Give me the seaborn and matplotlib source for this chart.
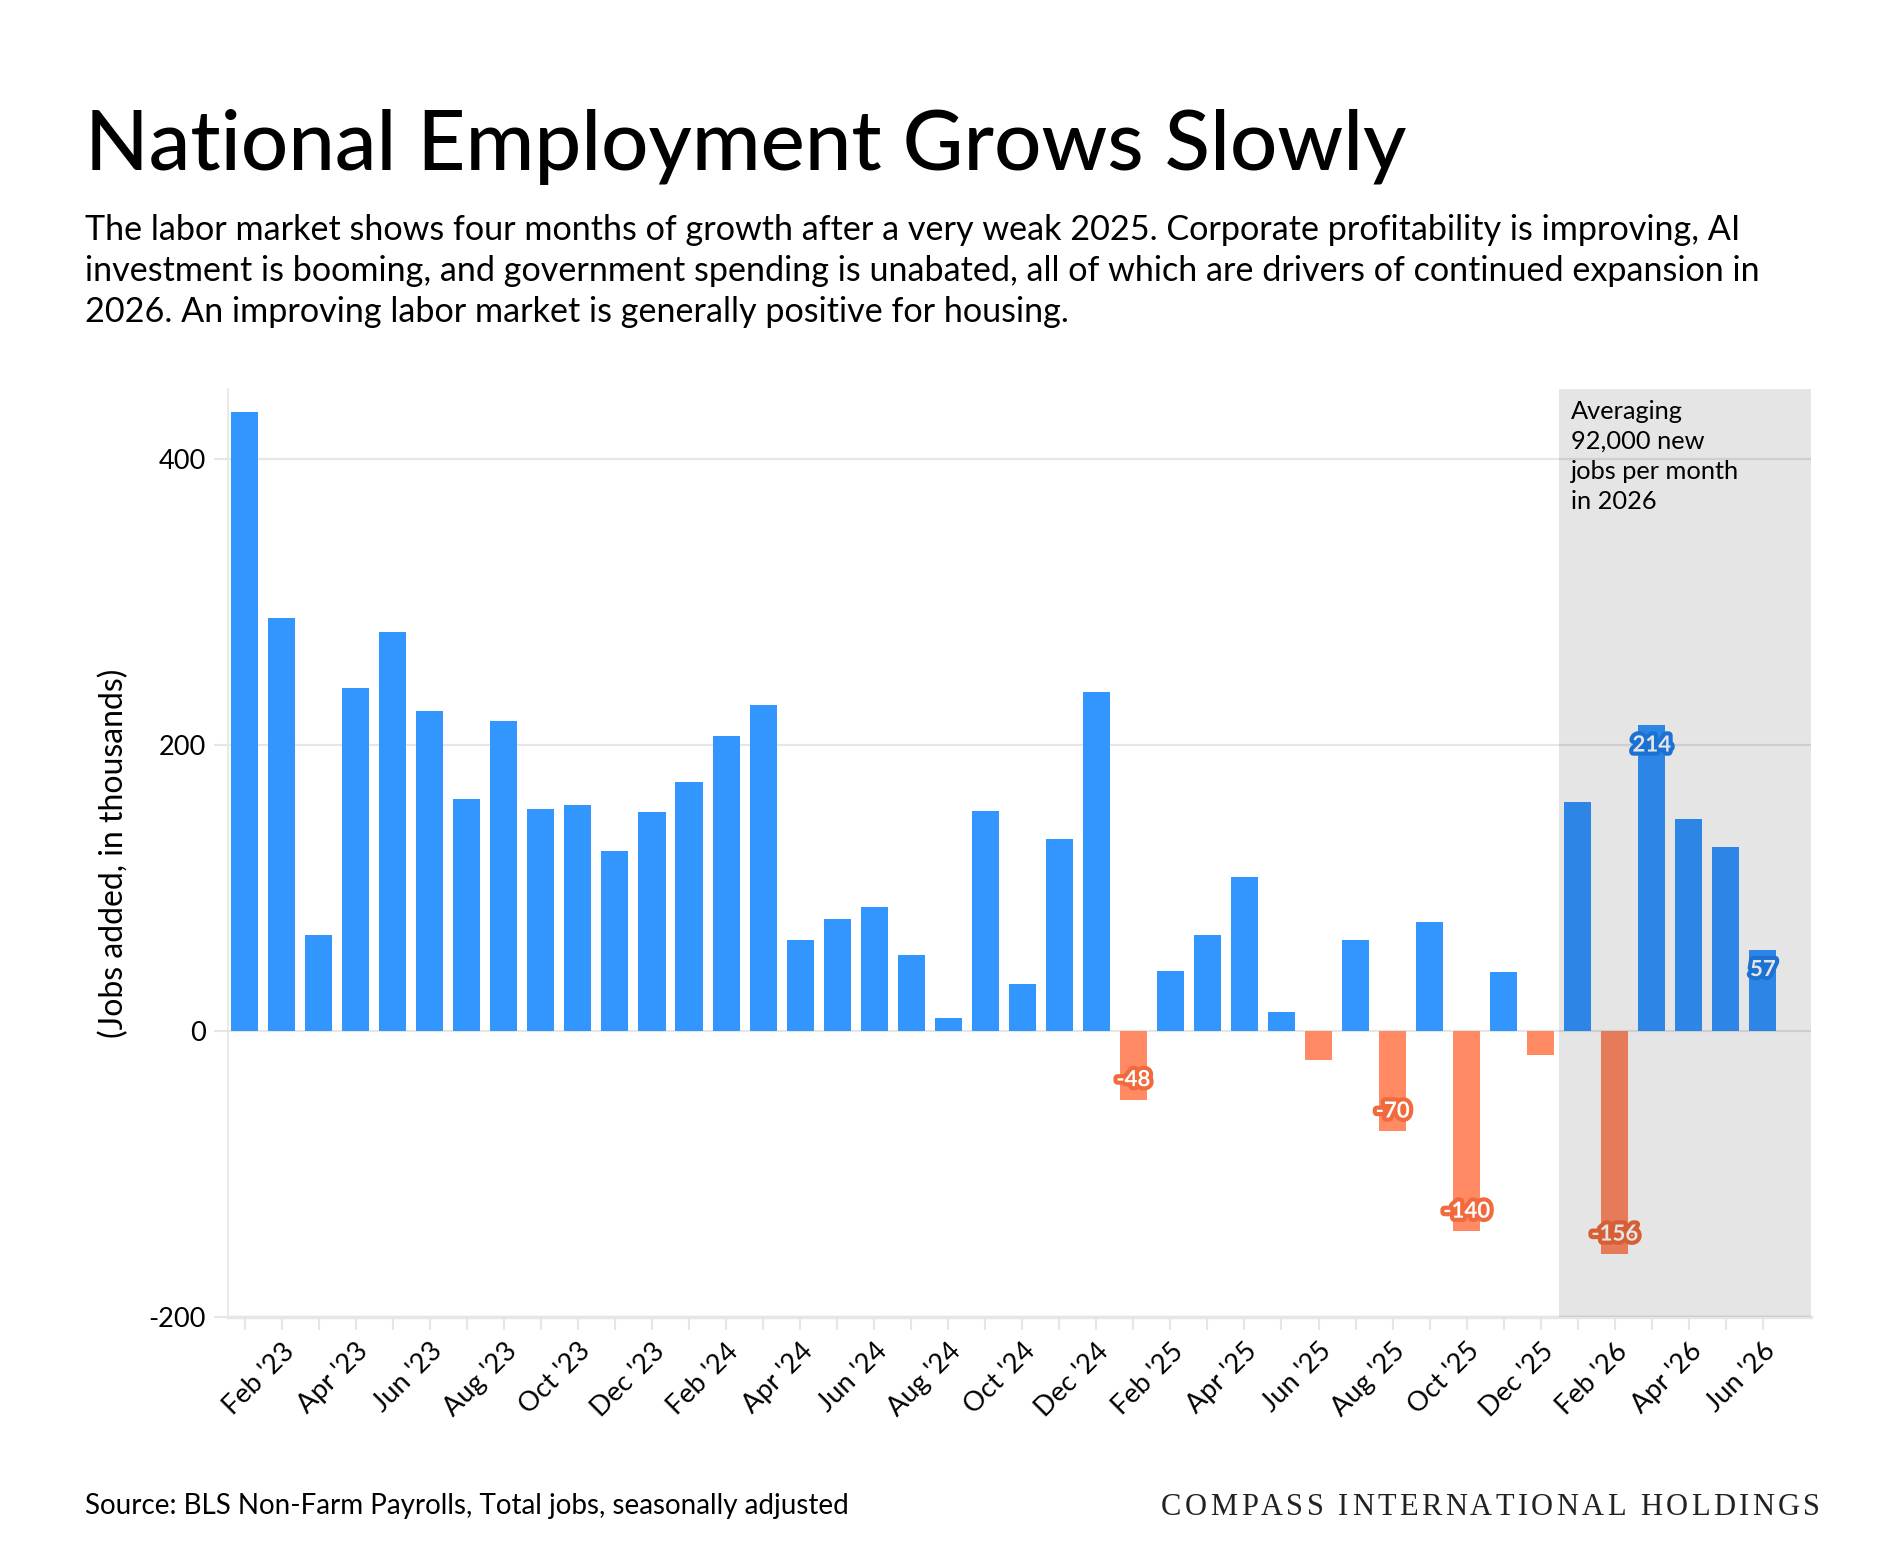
import numpy as np
import pandas as pd
import matplotlib
matplotlib.use("Agg")
import matplotlib.pyplot as plt
import matplotlib.patheffects as pe
from matplotlib.font_manager import FontProperties, findfont, get_font
import seaborn as sns

# aylik istihdam degisimi (bin kisi), Jan '23 - Jun '26
month_names = ["Jan", "Feb", "Mar", "Apr", "May", "Jun",
               "Jul", "Aug", "Sep", "Oct", "Nov", "Dec"]
years = ["23", "24", "25", "26"]
months = [f"{m} '{y}" for y in years for m in month_names][:42]

jobs = [433, 289, 67, 240, 279, 224, 162, 217, 155, 158, 126, 153,
        174, 206, 228, 64, 78, 87, 53, 9, 154, 33, 134, 237,
        -48, 42, 67, 108, 13, -20, 64, -70, 76, -140, 41, -17,
        160, -156, 214, 148, 129, 57]

# etiket gosterilen aylar
labeled_months = ["Jan '25", "Aug '25", "Oct '25", "Feb '26", "Mar '26", "Jun '26"]

title = "National Employment Grows Slowly"
subtitle_lines = [
    "The labor market shows four months of growth after a very weak 2025. Corporate profitability is improving, AI",
    "investment is booming, and government spending is unabated, all of which are drivers of continued expansion in",
    "2026. An improving labor market is generally positive for housing.",
]
note_lines = ["Averaging", "92,000 new", "jobs per month", "in 2026"]
source = "Source: BLS Non-Farm Payrolls, Total jobs, seasonally adjusted"
brand = "COMPASS INTERNATIONAL HOLDINGS"

BLUE = "#3396FF"
ORANGE = "#FF8A63"
GRID = "#E6E6E6"

W, H = 1900, 1568


def fx(px):
    return px / W


def fy(py):
    return 1 - py / H


sns.set_theme(style="white")
plt.rcParams["font.family"] = ["Lato", "DejaVu Sans"]
plt.rcParams["text.color"] = "black"
plt.rcParams["axes.labelcolor"] = "black"
plt.rcParams["axes.unicode_minus"] = False

df = pd.DataFrame({"month": months, "jobs": jobs})
df["sign"] = np.where(df["jobs"] < 0, "neg", "pos")

fig = plt.figure(figsize=(W / 100, H / 100), dpi=100)
ax = fig.add_axes([fx(228), 1 - 1317 / H, (1811 - 228) / W, (1317 - 389) / H])

sns.barplot(data=df, x="month", y="jobs", hue="sign", order=months,
            palette={"pos": BLUE, "neg": ORANGE}, dodge=False, width=0.73,
            saturation=1, linewidth=0, legend=False, ax=ax)

x_right = 42.3
ax.set_xlim(-0.45, x_right)
ax.set_ylim(-200, 449)

# izgara ve eksenler
ax.set_yticks([-200, 0, 200, 400])
ax.yaxis.grid(True, color=GRID, lw=1.6)
ax.set_axisbelow(True)
for s in ["top", "right"]:
    ax.spines[s].set_visible(False)
ax.spines["left"].set_color(GRID)
ax.spines["left"].set_linewidth(1.2)
ax.spines["bottom"].set_color(GRID)
ax.spines["bottom"].set_linewidth(2.5)

ax.set_xticks(range(len(months)))
ax.set_xticklabels([m if i % 2 == 1 else "" for i, m in enumerate(months)],
                   rotation=45, ha="right", rotation_mode="anchor")
ax.tick_params(axis="x", length=9.5, width=1.5, color=GRID, labelcolor="black",
               labelsize=19.5, pad=6, bottom=True)
ax.tick_params(axis="y", length=10, width=1.5, color=GRID, labelcolor="black",
               labelsize=19.5, pad=6, left=True)
ax.set_xlabel("")
ax.set_ylabel("(Jobs added, in thousands)", fontsize=23)
ax.yaxis.set_label_coords((129 - 228) / (1811 - 228), 0.5)

# 2026 bolgesi
ax.axvspan(35.5, x_right, color="black", alpha=0.1, lw=0, zorder=3)

# deger etiketleri
for m in labeled_months:
    i = months.index(m)
    v = jobs[i]
    halo = "#1F80EC" if v > 0 else "#F06A3D"
    ax.text(i, v - np.sign(v) * 14, str(v), ha="center", va="center",
            color="white", fontsize=16, fontweight="bold", zorder=2.5,
            path_effects=[pe.withStroke(linewidth=6, foreground=halo)])

# metinler
fig.text(fx(85), fy(170), title, fontsize=60, fontweight="medium", va="baseline")
for k, line in enumerate(subtitle_lines):
    fig.text(fx(85), fy(240 + 41 * k), line, fontsize=24.6, va="baseline")
for k, line in enumerate(note_lines):
    fig.text(fx(1571), fy(419 + 30 * k), line, fontsize=18.3, va="baseline")
fig.text(fx(85), fy(1514), source, fontsize=20, va="baseline")

# logo: harf araligi genis serif yazi
brand_size = 22
fp = FontProperties(family=["Liberation Serif", "DejaVu Serif"], size=brand_size)
ft = get_font(findfont(fp))
ft.set_size(brand_size, 100)
advs = [ft.load_char(ord(c)).linearHoriAdvance / 65536 for c in brand]
x0, x1 = 1161, 1820
extra = (x1 - x0 - sum(advs[:-1]) - advs[-1]) / (len(brand) - 1)
x = x0
for c, a in zip(brand, advs):
    fig.text(fx(x), fy(1515), c, fontproperties=fp, va="baseline",
             color="#222222")
    x += a + extra

fig.savefig("out.png", dpi=100, facecolor="white")
